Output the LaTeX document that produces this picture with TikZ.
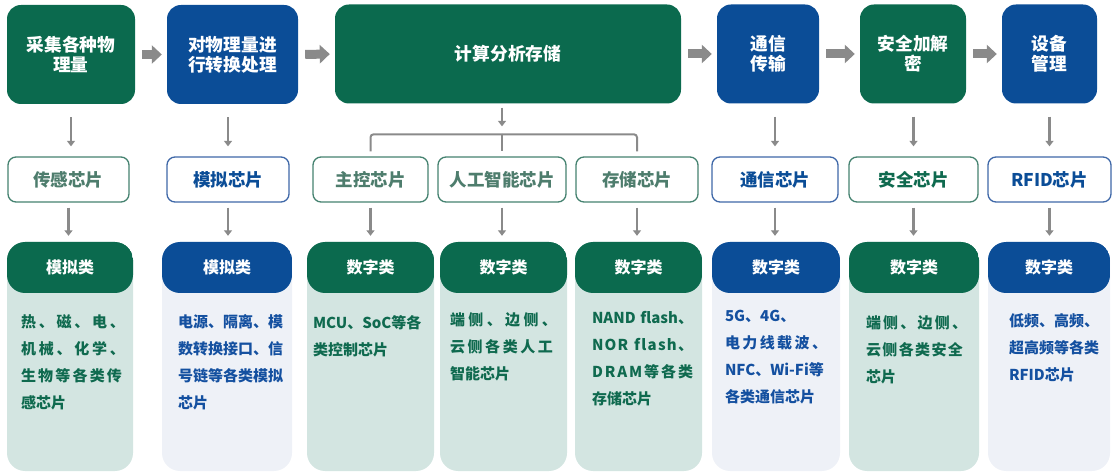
\documentclass[tikz,border=0pt]{standalone}
\usepackage{fontspec}
\setmainfont{Noto Sans CJK SC}
\usetikzlibrary{arrows.meta}
\definecolor{gdark}{HTML}{0B6A4E}
\definecolor{bdark}{HTML}{0B4D97}
\definecolor{glight}{HTML}{D3E5E1}
\definecolor{blight}{HTML}{EEF1F7}
\definecolor{gborder}{HTML}{458270}
\definecolor{bborder}{HTML}{3F68A8}
\definecolor{ggrey}{HTML}{4E7D6D}
\definecolor{gtext}{HTML}{0F6A4F}
\definecolor{btext}{HTML}{1450A0}
\definecolor{agray}{HTML}{8A8A8A}
\begin{document}
\begin{tikzpicture}[x=1pt,y=-1pt,
  top/.style={rounded corners=14pt, minimum height=99pt, inner sep=0pt, text=white,
    font=\bfseries\fontsize{17.7pt}{20pt}\selectfont, align=center},
  topg/.style={top, fill=gdark},
  topb/.style={top, fill=bdark},
  mid/.style={draw, line width=1.3pt, rounded corners=8pt, minimum height=45pt, fill=white,
    inner sep=0pt, font=\bfseries\fontsize{17.5pt}{20pt}\selectfont},
  midgrey/.style={mid, draw=gborder, text=ggrey},
  midg/.style={mid, draw=gborder, text=gtext},
  midb/.style={mid, draw=bborder, text=bdark},
  card/.style={rounded corners=18pt, minimum height=229pt, inner sep=0pt},
  cardg/.style={card, fill=glight, path picture={\fill[gdark] (path picture bounding box.north west) rectangle ([yshift=-51pt]path picture bounding box.north east);}},
  cardb/.style={card, fill=blight, path picture={\fill[bdark] (path picture bounding box.north west) rectangle ([yshift=-51pt]path picture bounding box.north east);}},
  hdr/.style={text=white, font=\bfseries\fontsize{16pt}{18pt}\selectfont, inner sep=0pt},
  body/.style={anchor=north west, inner sep=0pt, align=left, font=\bfseries\fontsize{15pt}{27pt}\selectfont},
  bodyg/.style={body, text=gtext},
  bodyb/.style={body, text=btext},
  harr/.style={line width=9pt, draw=agray, -{Triangle[length=10pt,width=18pt]}, shorten <=7pt, shorten >=5pt},
  darr/.style={line width=2.8pt, draw=agray, -{Triangle[length=5.5pt,width=8pt]}},
  gline/.style={line width=2pt, draw=agray, rounded corners=3pt}
]
\useasboundingbox (0,0) rectangle (1112,473);

% top row
\node[topg, minimum width=128pt] (t1) at (71,54.5) {采集各种物\\理量};
\node[topb, minimum width=131pt] (t2) at (232.5,54.5) {对物理量进\\行转换处理};
\node[topg, minimum width=346pt] (t3) at (508,54) {计算分析存储};
\node[topb, minimum width=102pt] (t4) at (768,54) {通信\\传输};
\node[topg, minimum width=106pt] (t5) at (913,54) {安全加解\\密};
\node[topb, minimum width=95pt] (t6) at (1049.5,54) {设备\\管理};

% middle row
\node[midgrey, minimum width=121pt] (m1) at (68.5,179.5) {传感芯片};
\node[midb, minimum width=122pt] (m2) at (228,179.5) {模拟芯片};
\node[midgrey, minimum width=115pt] (m3) at (370.5,179.5) {主控芯片};
\node[midgrey, minimum width=128pt] (m4) at (502,179.5) {人工智能芯片};
\node[midgrey, minimum width=122pt] (m5) at (637,179.5) {存储芯片};
\node[midb, minimum width=126pt] (m6) at (775,179.5) {通信芯片};
\node[midg, minimum width=129pt] (m7) at (913.5,179.5) {安全芯片};
\node[midb, minimum width=123pt] (m8) at (1049.5,179.5) {RFID芯片};

% cards
\node[cardg, minimum width=126pt] (c1) at (70,356.5) {};
\node[cardb, minimum width=130pt] (c2) at (227,356.5) {};
\node[cardg, minimum width=127pt] (c3) at (370.5,356.5) {};
\node[cardg, minimum width=127pt] (c4) at (503.5,356.5) {};
\node[cardg, minimum width=127pt] (c5) at (638.5,356.5) {};
\node[cardb, minimum width=128pt] (c6) at (776,356.5) {};
\node[cardg, minimum width=130pt] (c7) at (914,356.5) {};
\node[cardb, minimum width=122pt] (c8) at (1049,356.5) {};

\foreach \c/\t in {c1/模拟类, c2/模拟类, c3/数字类, c4/数字类, c5/数字类, c6/数字类, c7/数字类, c8/数字类}
  \node[hdr] (h\c) at ([yshift=-26pt]\c.north) {\t};

\node[bodyg] (b1) at ([xshift=14pt,yshift=-73pt]c1.north west)
  {\makebox[104pt][s]{热\hfil 、\hfil 磁\hfil 、\hfil 电\hfil 、}\\
   \makebox[104pt][s]{机\hfil 械\hfil 、\hfil 化\hfil 学\hfil 、}\\
   \makebox[101pt][s]{生\hfil 物\hfil 等\hfil 各\hfil 类\hfil 传}\\
   感芯片};
\node[bodyb] (b2) at ([xshift=16pt,yshift=-73pt]c2.north west)
  {电源、隔离、模\\数转换接口、信\\号链等各类模拟\\芯片};
\node[bodyg] (b3) at ([xshift=6pt,yshift=-73pt]c3.north west)
  {MCU、SoC等各\\类控制芯片};
\node[bodyg] (b4) at ([xshift=10pt,yshift=-71pt]c4.north west)
  {\makebox[107pt][s]{端\hfil 侧\hfil 、\hfil 边\hfil 侧\hfil 、}\\
   \makebox[103pt][s]{云\hfil 侧\hfil 各\hfil 类\hfil 人\hfil 工}\\
   智能芯片};
\node[bodyg] (b5) at ([xshift=17pt,yshift=-69pt]c5.north west)
  {\makebox[101pt][s]{NAND\ \hfil flash、}\\
   \makebox[101pt][s]{N\hfil O\hfil R\hfil \ \hfil f\hfil l\hfil a\hfil s\hfil h\hfil 、}\\
   \makebox[101pt][s]{D\hfil R\hfil A\hfil M\hfil 等\hfil 各\hfil 类}\\
   存储芯片};
\node[bodyb] (b6) at ([xshift=13pt,yshift=-68pt]c6.north west)
  {5G、4G、\\
   \makebox[102pt][s]{电\hfil 力\hfil 线\hfil 载\hfil 波\hfil 、}\\
   NFC、Wi-Fi等\\
   各类通信芯片};
\node[bodyg] (b7) at ([xshift=17pt,yshift=-74pt]c7.north west)
  {\makebox[101pt][s]{端\hfil 侧\hfil 、\hfil 边\hfil 侧\hfil 、}\\
   \makebox[97pt][s]{云\hfil 侧\hfil 各\hfil 类\hfil 安\hfil 全}\\
   芯片};
\node[bodyb] (b8) at ([xshift=21pt,yshift=-72pt]c8.north west)
  {低频、高频、\\超高频等各类\\RFID芯片};

% horizontal arrows
\draw[harr] (t1.east) -- (t2.west);
\draw[harr] (t2.east) -- (t3.west);
\draw[harr] (t3.east) -- (t4.west);
\draw[harr] (t4.east) -- (t5.west);
\draw[harr] (t5.east) -- (t6.west);

% down arrows top -> middle
\draw[darr, shorten <=13pt, shorten >=10pt] (t1.south) -- (t1.south |- m1.north);
\draw[darr, shorten <=13pt, shorten >=10pt] (m2.north |- t2.south) -- (m2.north);
\draw[darr, shorten <=13pt, shorten >=10pt] (m6.north |- t4.south) -- (m6.north);
\draw[darr, shorten <=13pt, shorten >=10pt] (m7.north |- t5.south) -- (m7.north);
\draw[darr, shorten <=13pt, shorten >=10pt] (m8.north |- t6.south) -- (m8.north);

% fork from computing box
\path (m4.north) ++(0,-22) coordinate (fk);
\draw[darr, shorten <=4pt] (fk |- t3.south) -- ([yshift=8pt]fk);
\draw[gline, shorten >=5pt] (fk) -| (m3.north);
\draw[gline, shorten >=5pt] (fk) -| (m5.north);
\draw[gline, shorten >=5pt] (fk) -- (m4.north);

% down arrows middle -> cards
\foreach \m/\c in {m1/c1, m2/c2, m3/c3, m4/c4, m5/c5, m6/c6, m7/c7, m8/c8}
  \draw[darr, shorten <=5pt, shorten >=6pt] (\m.south) -- (\m.south |- \c.north);
\end{tikzpicture}
\end{document}
